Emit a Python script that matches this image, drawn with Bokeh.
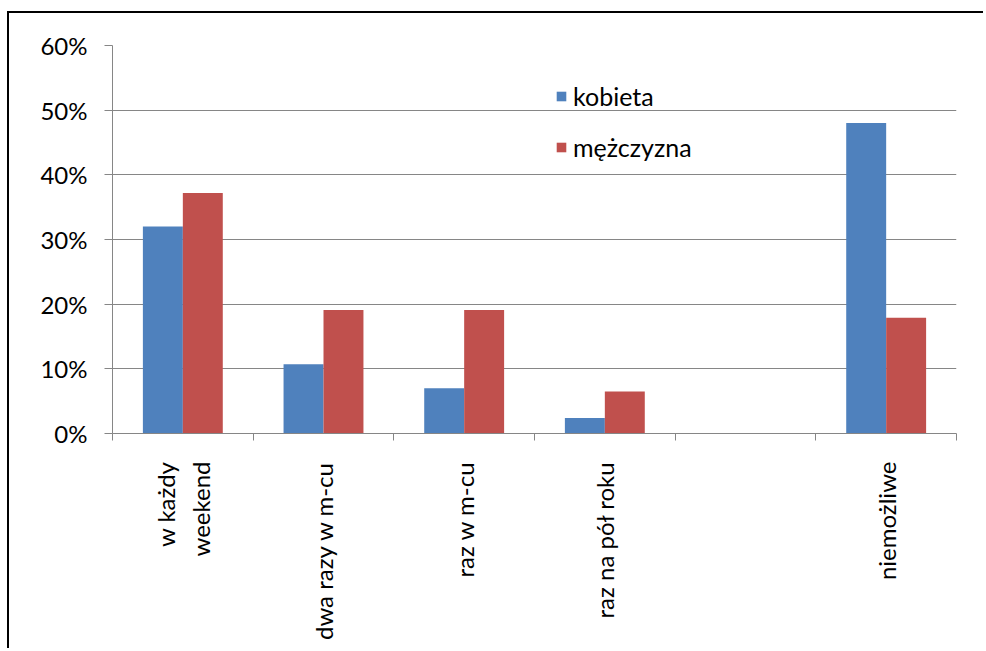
import math
from bokeh.plotting import figure
from bokeh.models import (Range1d, FixedTicker, NumeralTickFormatter, Legend, LegendItem,
                          ColumnDataSource)
from bokeh.embed import file_html
from bokeh.resources import INLINE

categories = ["w każdy\nweekend", "dwa razy w m-cu", "raz w m-cu", "raz na pół roku", "", "niemożliwe"]
kobieta = [0.320, 0.107, 0.070, 0.024, 0.0, 0.480]
mezczyzna = [0.372, 0.191, 0.191, 0.065, 0.0, 0.179]
y_ticks = [0.0, 0.1, 0.2, 0.3, 0.4, 0.5, 0.6]
series_names = ["kobieta", "mężczyzna"]
colors = ["#4F81BD", "#C0504D"]

FONT = "Lato"
n = len(categories)
bar_w = 0.284
centers = [i + 0.5 for i in range(n)]

p = figure(width=976, height=637, output_backend="svg", toolbar_location=None,
           x_range=Range1d(0, n), y_range=Range1d(0, 0.6),
           min_border_left=103, min_border_top=32, min_border_right=29, min_border_bottom=217)
p.styles = {"border-top": "2px solid #000", "border-left": "2px solid #000",
            "margin-left": "7px", "margin-top": "11px"}
p.outline_line_color = None
p.background_fill_color = "white"
p.border_fill_color = "white"

src = ColumnDataSource(dict(
    xk=[c - bar_w / 2 for c in centers],
    xm=[c + bar_w / 2 for c in centers],
    k=kobieta, m=mezczyzna))
rk = p.vbar(x="xk", top="k", width=bar_w, source=src, fill_color=colors[0], line_color=None)
rm = p.vbar(x="xm", top="m", width=bar_w, source=src, fill_color=colors[1], line_color=None)

# y axis
p.yaxis.ticker = FixedTicker(ticks=y_ticks)
p.yaxis.formatter = NumeralTickFormatter(format="0%")
p.yaxis.axis_line_color = "#868686"
p.yaxis.major_tick_line_color = "#868686"
p.yaxis.major_tick_out = 8
p.yaxis.major_tick_in = 0
p.yaxis.minor_tick_line_color = None
p.yaxis.major_label_standoff = 17
p.yaxis.major_label_text_font = FONT
p.yaxis.major_label_text_font_size = "24px"
p.yaxis.major_label_text_color = "#000000"

# x axis: labels at centers, ticks at boundaries
p.xaxis.ticker = FixedTicker(ticks=centers, minor_ticks=list(range(n + 1)))
p.xaxis.major_label_overrides = {c: lab for c, lab in zip(centers, categories)}
p.xaxis.major_label_orientation = math.pi / 2
p.xaxis.axis_line_color = "#868686"
p.xaxis.major_tick_line_color = None
p.xaxis.major_tick_out = 0
p.xaxis.major_tick_in = 0
p.xaxis.minor_tick_line_color = "#868686"
p.xaxis.minor_tick_out = 7
p.xaxis.minor_tick_in = 0
p.xaxis.major_label_standoff = 21
p.xaxis.major_label_text_font = FONT
p.xaxis.major_label_text_font_size = "24px"
p.xaxis.major_label_text_color = "#000000"

p.xgrid.grid_line_color = None
p.ygrid.ticker = FixedTicker(ticks=y_ticks)
p.ygrid.grid_line_color = "#868686"
p.ygrid.grid_line_width = 1

legend = Legend(items=[LegendItem(label=series_names[0], renderers=[rk]),
                       LegendItem(label=series_names[1], renderers=[rm])],
                location=(443, 271), orientation="vertical",
                glyph_width=12, glyph_height=12, label_height=22, spacing=21,
                padding=0, margin=0, label_standoff=6,
                label_text_font=FONT, label_text_font_size="25px",
                label_text_color="#000000",
                border_line_color=None, background_fill_alpha=0)
p.add_layout(legend, "center")

open("out.html", "w").write(file_html(p, INLINE))
